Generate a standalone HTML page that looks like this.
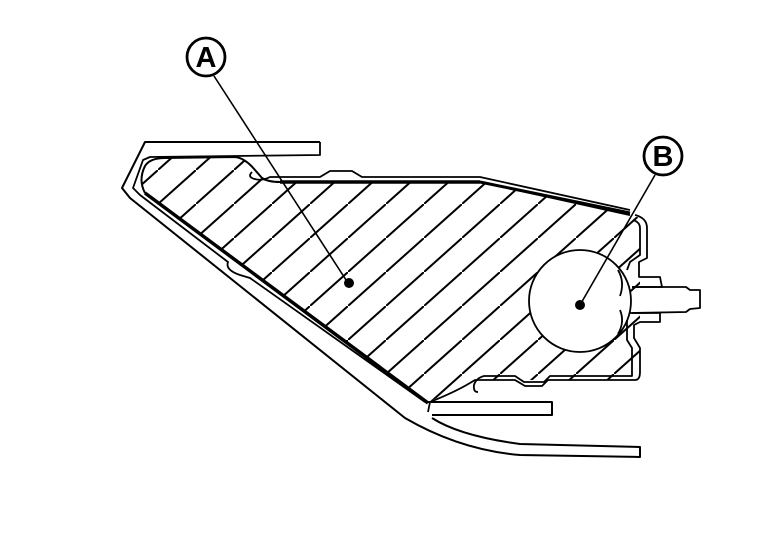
<!DOCTYPE html>
<html><head><meta charset="utf-8"><style>
html,body{margin:0;padding:0;background:#fff;}
svg{display:block;}
text{font-family:"Liberation Sans",sans-serif;font-weight:bold;}
</style></head><body>
<svg width="768" height="544" viewBox="0 0 768 544" xmlns="http://www.w3.org/2000/svg">
<defs>
<pattern id="h" patternUnits="userSpaceOnUse" width="38" height="34" x="6" y="0">
<line x1="-3.8" y1="37.4" x2="41.8" y2="-3.4" stroke="#000" stroke-width="2"/>
</pattern>
<clipPath id="c">
<path d="M145,193 Q138,180 145,166 Q150,158 165,158 L235,157 Q245,158 255,170 L262,178 Q268,182 280,182 L480,182 L630,215 L640,218 L640,380 L478,380 Q465,385 455,390 L428,402 Z"/>
</clipPath>
</defs>
<g fill="none" stroke="#000" stroke-width="2" stroke-linejoin="round">
<rect x="100" y="140" width="560" height="280" fill="url(#h)" stroke="none" clip-path="url(#c)"/>
<circle cx="580" cy="301" r="51" fill="#fff" stroke-width="1.8"/>
<path d="M145,193 Q138,180 145,166 Q150,158 165,158 L235,157 Q245,158 255,170 L262,178 Q268,182 280,182 L480,182 L630,215" stroke-width="2"/>
<path d="M480,182 L630,213" stroke-width="3"/>
<path d="M145,193 L428,403" stroke-width="3.5"/>
<path d="M280,182 L480,182" stroke-width="3.5"/>
<path d="M252,172 Q248,176 252,178 Q260,182 270,177 L320,177 L330,171 L352,171 L362,177 L480,177 L630,210" stroke-width="1.8"/>
<path d="M320,142 L145,142 L122,188 L130,198 L405,418 Q460,450 520,455 L640,457 L640,447 L520,444 Q460,436 432,418" stroke-width="2"/>
<path d="M320,142 L320,155 L150,157 L143,160 L133,188 L140,195 L228,262 Q225,270 240,275 L250,278 L425,402" stroke-width="1.8"/>
<path d="M425,402 L552,402 L552,415 L432,415" stroke-width="2"/>
<path d="M430,402 L428,412" stroke-width="1.8"/>
<path d="M430,402 Q455,392 470,383 L475,380 L515,380 L525,386 L542,386 L548,380 L635,380 Q640,380 640,372 L640,348 L634,338 L634,325 L640,322 L660,322 L660,313 L630,313" stroke-width="1.8"/>
<path d="M478,392 Q473,392 474,385 Q476,378 484,376 L515,376 L524,382 L544,382 L550,376 L632,376 L632,348 L627,340 L627,320" stroke-width="1.8"/>
<path d="M635,215 Q647,218 647,228 L647,258 L639,262 L639,277 L660,277 L662,287 L632,287" stroke-width="1.8"/>
<path d="M627,270 L630,262 L640,255 L640,228 Q640,222 633,220" stroke-width="1.8"/>
<path d="M632,287 L686,287 L690,290 L700,290 L700,308 L690,309 L686,312 L632,313" stroke-width="1.8"/>
<path d="M620,296 Q625,282 618,270 M620,310 Q625,322 618,334" stroke-width="1.8"/>
<line x1="214" y1="76" x2="348" y2="283" stroke-width="1.6"/>
<line x1="655" y1="175" x2="580" y2="305" stroke-width="1.6"/>
<circle cx="206" cy="57" r="19" stroke-width="2.8"/>
<circle cx="663" cy="156" r="19" stroke-width="2.8"/>
</g>
<circle cx="349" cy="283" r="5" fill="#000"/>
<circle cx="580" cy="305" r="5" fill="#000"/>
<text x="206" y="67" font-size="29" text-anchor="middle">A</text>
<text x="663" y="166" font-size="29" text-anchor="middle">B</text>
</svg>
</body></html>
